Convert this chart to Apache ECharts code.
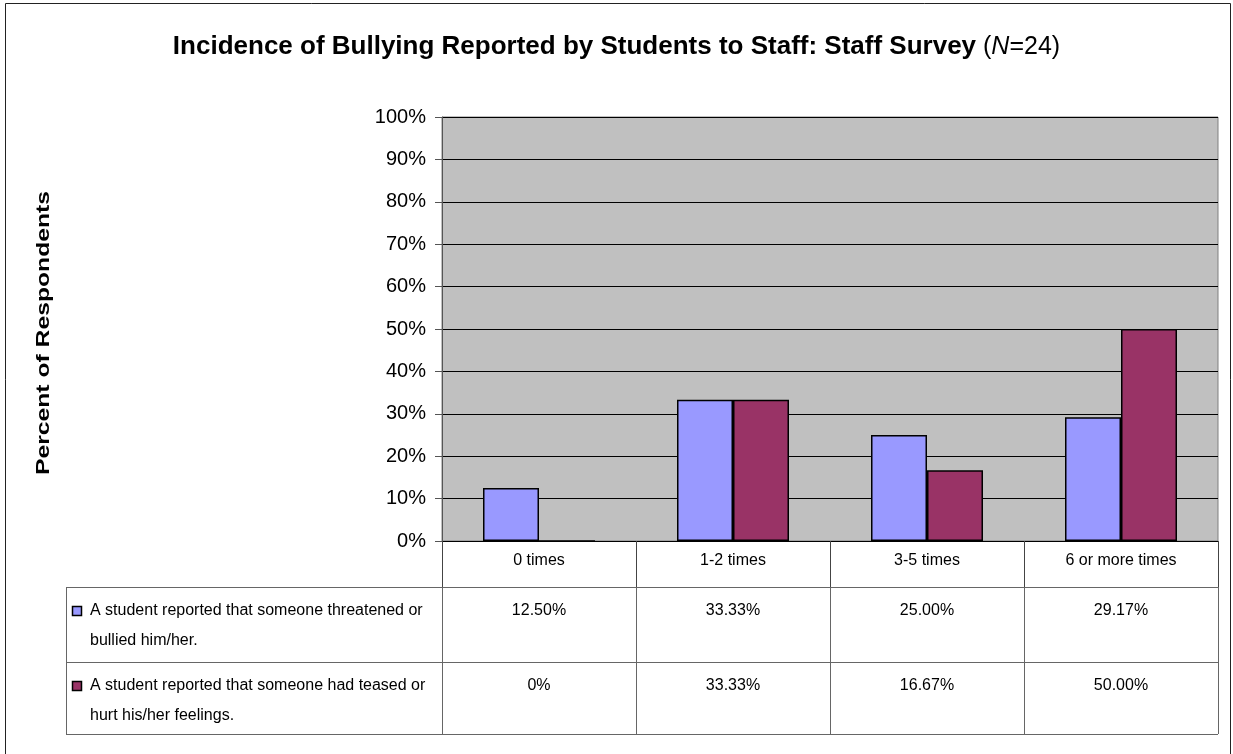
<!DOCTYPE html>
<html>
<head>
<meta charset="utf-8">
<script src="https://cdn.jsdelivr.net/npm/echarts@6/dist/echarts.min.js"></script>
<style>
  html, body { margin: 0; padding: 0; background: #fff; }
  #main { width: 1233px; height: 754px; }
</style>
</head>
<body>
<div id="main"></div>
<script>
// data
var categories = ["0 times", "1-2 times", "3-5 times", "6 or more times"];
var threatened = [12.5, 33.33, 25.0, 29.17];
var teased = [0, 33.33, 16.67, 50.0];
var threatenedLabels = ["12.50%", "33.33%", "25.00%", "29.17%"];
var teasedLabels = ["0%", "33.33%", "16.67%", "50.00%"];
var seriesNames = [
  ["A student reported that someone threatened or", "bullied him/her."],
  ["A student reported that someone had teased or", "hurt his/her feelings."]
];
var colors = ["#9999FF", "#993366"];

var arial = '"Liberation Sans", Arial, sans-serif';

var chart = echarts.init(document.getElementById("main"));

var option = {
  animation: false,
  backgroundColor: "#fff",
  title: {
    left: "center",
    top: 29,
    textStyle: {
      fontWeight: "normal",
      rich: {
        b: { fontFamily: arial, fontWeight: "bold", fontSize: 26, color: "#000" },
        n: { fontFamily: arial, fontWeight: "normal", fontSize: 25, color: "#000" },
        i: { fontFamily: arial, fontWeight: "normal", fontStyle: "italic", fontSize: 25, color: "#000" }
      }
    },
    text: "{b|Incidence of Bullying Reported by Students to Staff: Staff Survey}{n| (}{i|N}{n|=24)}"
  },
  grid: {
    left: 442,
    top: 117,
    right: 15,
    bottom: 213,
    show: true,
    backgroundColor: "#C0C0C0",
    borderColor: "#808080",
    borderWidth: 1
  },
  xAxis: {
    type: "category",
    data: categories,
    axisLine: { lineStyle: { color: "#000", width: 1 } },
    axisTick: { show: true, length: 46, lineStyle: { color: "#444" } },
    axisLabel: { fontFamily: arial, fontSize: 16, color: "#000", margin: 12 },
    splitLine: { show: false }
  },
  yAxis: {
    type: "value",
    min: 0,
    max: 100,
    interval: 10,
    axisLine: { show: true, lineStyle: { color: "#555" } },
    axisTick: { show: true, length: 7, lineStyle: { color: "#555" } },
    axisLabel: {
      fontFamily: arial, fontSize: 20, color: "#000", margin: 16,
      formatter: function (v) { return v + "%"; }
    },
    splitLine: { show: true, lineStyle: { color: "#000", width: 1 } }
  },
  series: [
    {
      name: seriesNames[0].join(" "),
      type: "bar",
      data: threatened,
      barWidth: 56,
      barGap: "0%",
      itemStyle: { color: colors[0], borderColor: "#000", borderWidth: 1.5 }
    },
    {
      name: seriesNames[1].join(" "),
      type: "bar",
      data: teased,
      barWidth: 56,
      barGap: "0%",
      itemStyle: { color: colors[1], borderColor: "#000", borderWidth: 1.5 }
    }
  ]
};
chart.setOption(option);

// data table below the plot + axis title
function buildTable() {
  var c0 = chart.convertToPixel({ xAxisIndex: 0 }, 0);
  var c1 = chart.convertToPixel({ xAxisIndex: 0 }, 1);
  var band = c1 - c0;
  var y0 = chart.convertToPixel({ yAxisIndex: 0 }, 0);
  var y100 = chart.convertToPixel({ yAxisIndex: 0 }, 100);
  var plotLeft = c0 - band / 2;
  var plotRight = plotLeft + band * categories.length;
  var tableLeft = 66;
  var r1 = y0 + 46, r2 = r1 + 75, r3 = r2 + 72;
  var lineStyle = { stroke: "#666", lineWidth: 1 };
  var els = [];

  // outer frame
  els.push({ type: "rect", shape: { x: 5.5, y: 3.5, width: 1225, height: 760 },
    style: { fill: null, stroke: "#222", lineWidth: 1 }, silent: true });

  // y axis title, stretched along its length like the original
  els.push({ type: "text", x: 44, y: (y0 + y100) / 2 + 4, rotation: Math.PI / 2, scaleX: 1.3,
    style: { text: "Percent of Respondents", fontFamily: arial, fontWeight: "bold", fontSize: 19,
      fill: "#000", textAlign: "center", textVerticalAlign: "middle" } });

  [r1, r2, r3].forEach(function (y) {
    els.push({ type: "line", shape: { x1: tableLeft, y1: y + 0.5, x2: plotRight, y2: y + 0.5 }, style: lineStyle });
  });
  var xs = [tableLeft];
  for (var k = 0; k <= categories.length; k++) xs.push(plotLeft + band * k);
  xs.forEach(function (x) {
    els.push({ type: "line", shape: { x1: Math.round(x) + 0.5, y1: r1, x2: Math.round(x) + 0.5, y2: r3 }, style: lineStyle });
  });

  var rows = [
    { top: r1, labels: threatenedLabels, name: seriesNames[0], color: colors[0] },
    { top: r2, labels: teasedLabels, name: seriesNames[1], color: colors[1] }
  ];
  rows.forEach(function (row) {
    els.push({ type: "rect", shape: { x: 72.5, y: row.top + 19.5, width: 9, height: 9 },
      style: { fill: row.color, stroke: "#000", lineWidth: 1.5 } });
    row.name.forEach(function (line, j) {
      els.push({ type: "text", x: 90, y: row.top + 24 + j * 30,
        style: { text: line, fontFamily: arial, fontSize: 16, fill: "#000", textVerticalAlign: "middle" } });
    });
    row.labels.forEach(function (lab, i) {
      els.push({ type: "text", x: chart.convertToPixel({ xAxisIndex: 0 }, i), y: row.top + 24,
        style: { text: lab, fontFamily: arial, fontSize: 16, fill: "#000", textAlign: "center", textVerticalAlign: "middle" } });
    });
  });
  chart.setOption({ graphic: { elements: els } });
}
buildTable();
</script>
</body>
</html>
